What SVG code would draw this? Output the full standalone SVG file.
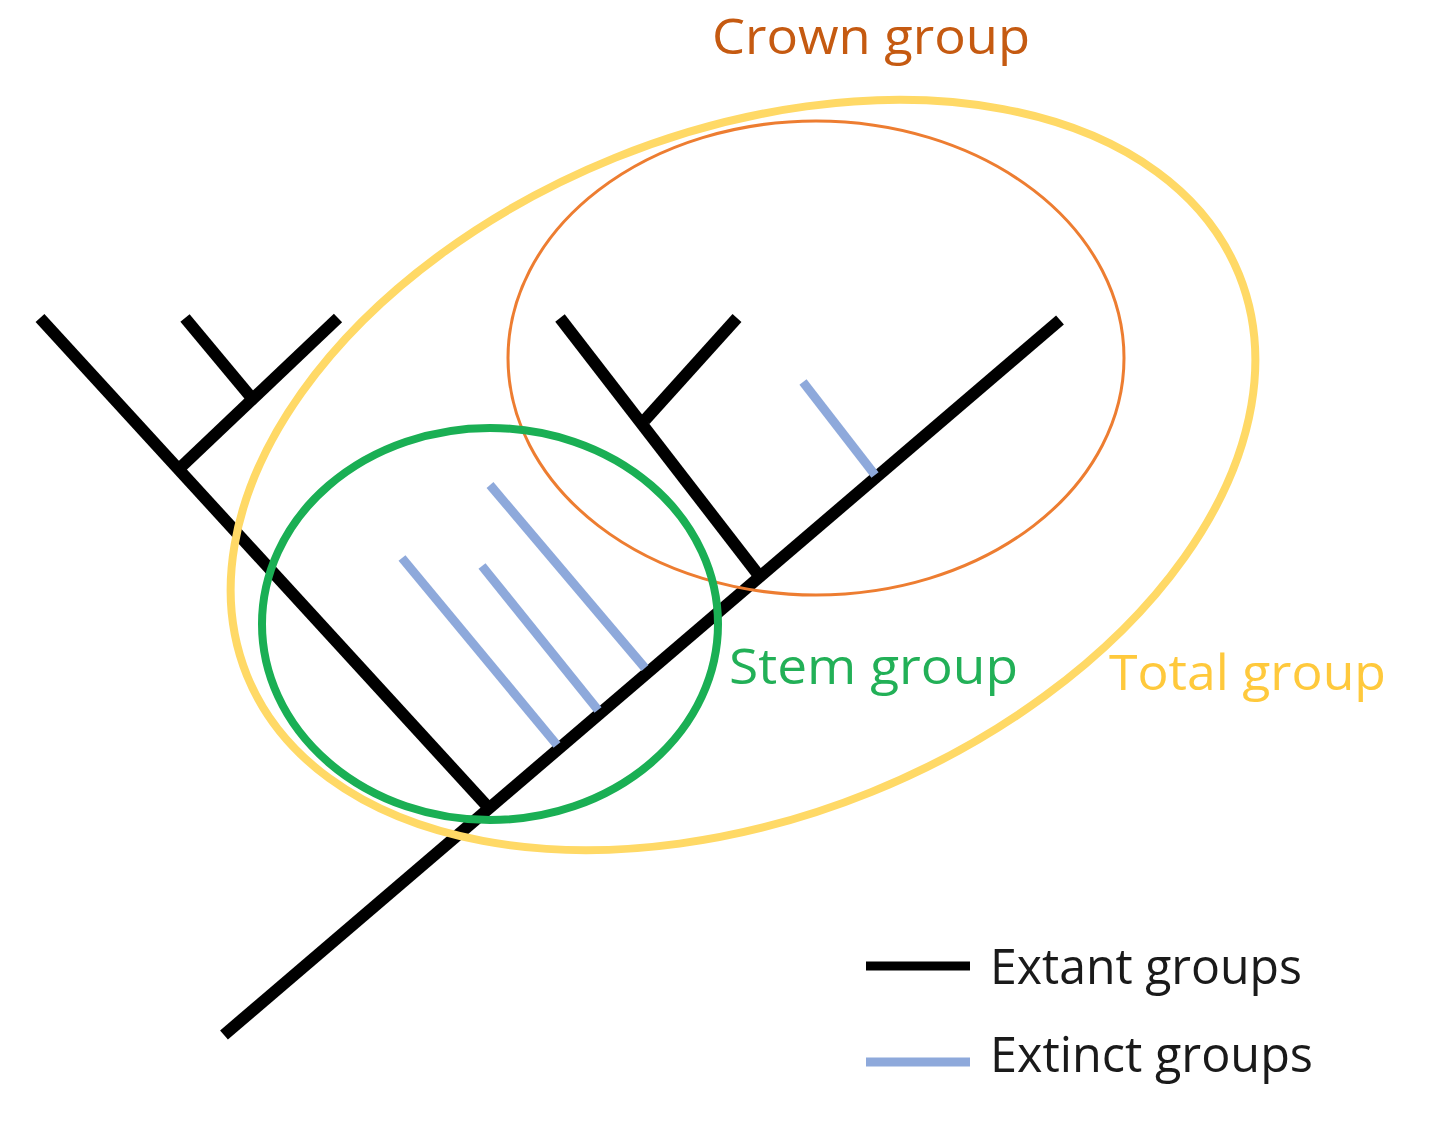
<svg xmlns="http://www.w3.org/2000/svg" width="1440" height="1134" viewBox="0 0 1440 1134">
<style>
.ext{stroke:#000;stroke-width:12;stroke-linecap:butt;stroke-linejoin:miter;fill:none}
.extinct{stroke:#8EA9DB;stroke-width:9;fill:none}
.lbl{font-family:"Open Sans","Noto Sans",sans-serif;font-size:50px}
</style>
<rect width="1440" height="1134" fill="#fff"/>
<g id="connectors">
<polyline class="ext" points="40,318 487,806"/>
<polyline class="ext" points="224,1035 1060,320"/>
<polyline class="ext" points="181,467 338,318"/>
<polyline class="ext" points="185,318 250,396"/>
<polyline class="ext" points="560,318 760,577"/>
<polyline class="ext" points="645,420 737,318"/>
<line class="extinct" x1="803" y1="382" x2="875" y2="475"/>
<line class="extinct" x1="402" y1="558" x2="557" y2="745"/>
<line class="extinct" x1="482" y1="566" x2="598" y2="710"/>
<line class="extinct" x1="490" y1="485" x2="645" y2="668"/>
</g>
<g id="total-group">
<ellipse cx="743" cy="475" rx="535" ry="342" transform="rotate(-22 743 475)" fill="none" stroke="#FFD966" stroke-width="8"/>
</g>
<g id="crown-group">
<ellipse cx="816" cy="358" rx="308" ry="237" fill="none" stroke="#ED7D31" stroke-width="3"/>
</g>
<g id="stem-group">
<ellipse cx="490" cy="624" rx="228" ry="196" fill="none" stroke="#1AAF54" stroke-width="8"/>
</g>
<g id="labels">
<text class="lbl" x="712" y="54" fill="#C55A11" textLength="318" lengthAdjust="spacingAndGlyphs">Crown group</text>
<text class="lbl" x="729" y="684" fill="#22B057" textLength="289" lengthAdjust="spacingAndGlyphs">Stem group</text>
<text class="lbl" x="1109" y="690" fill="#FFC93C" textLength="277" lengthAdjust="spacingAndGlyphs">Total group</text>
</g>
<g id="legend">
<line x1="866" y1="966" x2="970" y2="966" stroke="#000" stroke-width="9"/>
<line x1="866" y1="1062" x2="970" y2="1062" stroke="#8EA9DB" stroke-width="9"/>
<text class="lbl" x="990" y="984" fill="#1a1a1a" textLength="312" lengthAdjust="spacingAndGlyphs">Extant groups</text>
<text class="lbl" x="990" y="1072" fill="#1a1a1a" textLength="323" lengthAdjust="spacingAndGlyphs">Extinct groups</text>
</g>
</svg>
